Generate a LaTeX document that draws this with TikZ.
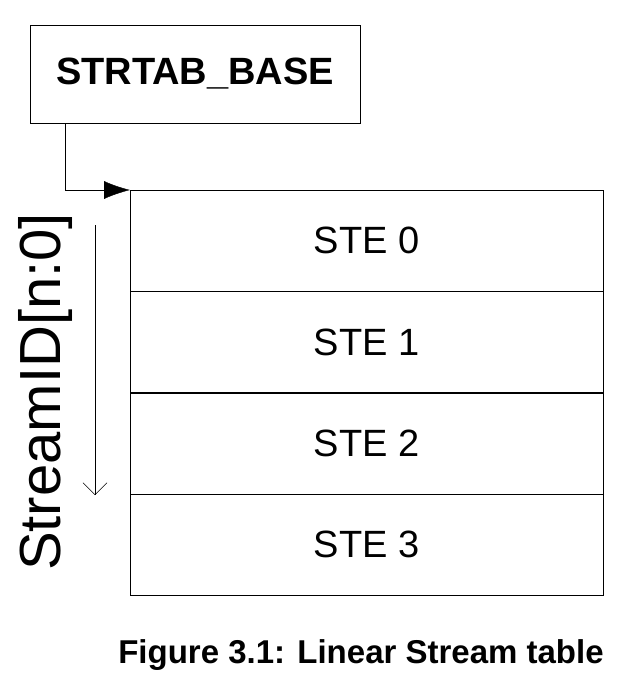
\documentclass[tikz,border=0pt]{standalone}
\usepackage{fontspec}
\setmainfont{Liberation Sans}
\usetikzlibrary{arrows.meta}
\begin{document}
\begin{tikzpicture}[x=1pt,y=-1pt]
	\useasboundingbox (0,0) rectangle (627,694);
	\tikzset{ste/.style={draw, minimum width=473pt, minimum height=101pt, font=\fontsize{38}{42}\selectfont}}
	\node[draw, minimum width=330pt, minimum height=98pt, font=\fontsize{38}{42}\selectfont\bfseries] (base) at (195,74) {STRTAB\_BASE};
	% stream table
	\node[ste, anchor=north west] (ste0) at (130,190) {STE 0};
	\node[ste, anchor=north] (ste1) at (ste0.south) {STE 1};
	\node[ste, anchor=north] (ste2) at (ste1.south) {STE 2};
	\node[ste, anchor=north] (ste3) at (ste2.south) {STE 3};
	\coordinate (bend) at (65,190);
	\draw[-{Latex[length=26pt,width=18pt]}] (base.south -| bend) -- (bend) -- (ste0.north west);
	% index
	\coordinate (idtop) at (95,225);
	\coordinate (idbot) at (95,495);
	\draw[-{Straight Barb[length=12pt,width=24pt]}] (idtop) -- (idbot);
	\node[rotate=90, font=\fontsize{58}{62}\selectfont] (sid) at (46,392) {StreamID[n:0]};
	\node[font=\fontsize{33}{36}\selectfont\bfseries] (cap) at (361,655) {Figure 3.1: Linear Stream table};
\end{tikzpicture}
\end{document}
